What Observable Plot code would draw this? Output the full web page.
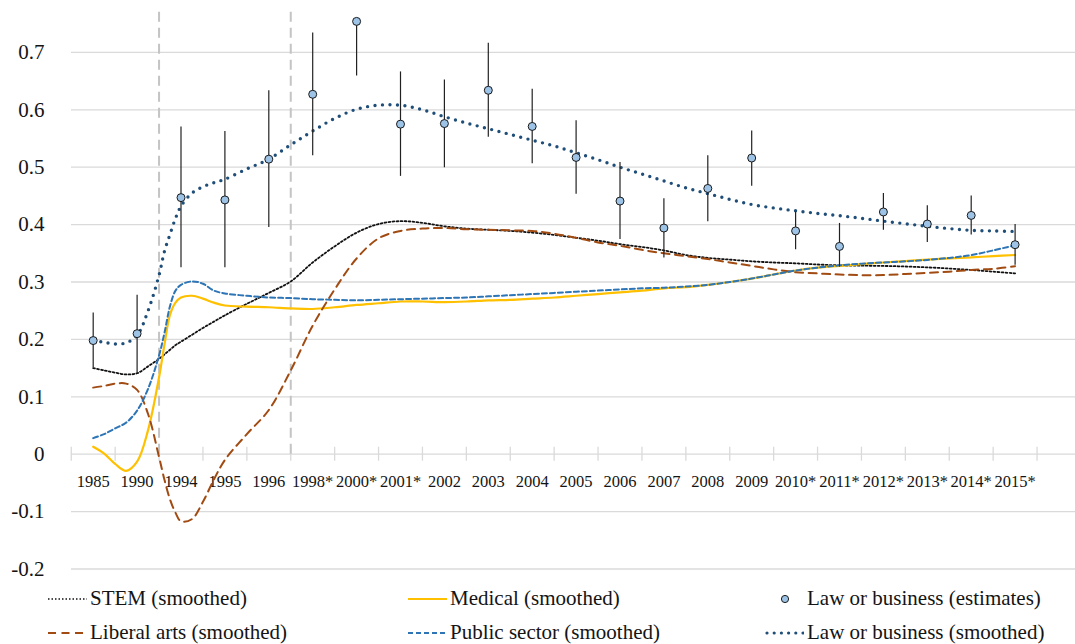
<!DOCTYPE html>
<html>
<head>
<meta charset="utf-8">
<script src="https://cdn.jsdelivr.net/npm/d3@7"></script>
<script src="https://cdn.jsdelivr.net/npm/@observablehq/plot@0.6"></script>
<style>
  html, body { margin: 0; padding: 0; background: #fff; }
  #wrap { position: relative; width: 1075px; height: 644px; font-family: "Liberation Serif", serif; color: #141414; }
  #legend { position: absolute; left: 0; top: 580px; width: 1075px; height: 64px; }
  .item { position: absolute; display: flex; align-items: center; font-size: 21px; line-height: 21px; white-space: nowrap; }
  .item svg { display: block; margin-right: 3px; }
</style>
</head>
<body>
<div id="wrap"><div id="chart"></div><div id="legend"></div></div>
<script>
// Survey years on the horizontal axis (* = alternative survey wave)
const categories = ["1985", "1990", "1994", "1995", "1996", "1998*", "2000*", "2001*", "2002", "2003", "2004",
  "2005", "2006", "2007", "2008", "2009", "2010*", "2011*", "2012*", "2013*", "2014*", "2015*"];

// Law or business: point estimates and confidence bounds
const lawEstimate = [0.198, 0.210, 0.447, 0.443, 0.514, 0.627, 0.754, 0.575, 0.576, 0.634, 0.571,
  0.517, 0.441, 0.394, 0.463, 0.516, 0.389, 0.362, 0.422, 0.401, 0.416, 0.365];
const lawLow = [0.150, 0.141, 0.325, 0.325, 0.395, 0.520, 0.659, 0.484, 0.499, 0.552, 0.506,
  0.453, 0.374, 0.342, 0.405, 0.467, 0.356, 0.326, 0.390, 0.369, 0.382, 0.329];
const lawHigh = [0.246, 0.277, 0.570, 0.562, 0.633, 0.734, null, 0.666, 0.652, 0.716, 0.636,
  0.581, 0.508, 0.445, 0.520, 0.563, 0.422, 0.402, 0.454, 0.433, 0.450, 0.400];

// Positions (in category steps) at which the smoothed series are sampled
const smoothPos = [0, 0.25, 0.5, 0.75, 1, 1.25, 1.5, 1.625, 1.75, 1.875, 2, 2.25, 2.5, 2.75, 3,
  3.5, 4, 4.5, 5, 5.5, 6, 6.5, 7, 7.5, 8,
  8.5, 9, 9.5, 10, 10.5, 11, 11.5, 12, 12.5, 13,
  13.5, 14, 14.5, 15, 15.5, 16, 16.5, 17, 17.5, 18,
  18.5, 19, 19.5, 20, 20.5, 21];

const lawSmoothed = [0.198, 0.195, 0.192, 0.194, 0.207, 0.250, 0.312, 0.354, 0.383, 0.411, 0.432, 0.455, 0.466, 0.473, 0.479,
  0.497, 0.514, 0.539, 0.563, 0.585, 0.601, 0.608, 0.608, 0.600, 0.588,
  0.577, 0.567, 0.557, 0.547, 0.537, 0.525, 0.513, 0.500, 0.488, 0.476,
  0.464, 0.454, 0.444, 0.435, 0.429, 0.424, 0.4195, 0.4155, 0.411, 0.406,
  0.4015, 0.397, 0.393, 0.390, 0.389, 0.388];

const stemSmoothed = [0.150, 0.146, 0.142, 0.139, 0.141, 0.153, 0.166, 0.174, 0.182, 0.190, 0.196, 0.208, 0.220, 0.231, 0.242,
  0.262, 0.281, 0.301, 0.334, 0.362, 0.386, 0.401, 0.406, 0.403, 0.397,
  0.393, 0.391, 0.389, 0.386, 0.382, 0.377, 0.372, 0.366, 0.361, 0.355,
  0.347, 0.342, 0.339, 0.336, 0.334, 0.3325, 0.3305, 0.329, 0.3285, 0.328,
  0.327, 0.3255, 0.3235, 0.321, 0.318, 0.315];

const medicalSmoothed = [0.013, 0.001, -0.017, -0.029, -0.013, 0.042, 0.134, 0.192, 0.243, 0.264, 0.273, 0.276, 0.271, 0.264, 0.259,
  0.257, 0.256, 0.254, 0.253, 0.256, 0.260, 0.263, 0.266, 0.266, 0.265,
  0.266, 0.268, 0.269, 0.271, 0.273, 0.276, 0.279, 0.282, 0.285, 0.289,
  0.291, 0.295, 0.300, 0.306, 0.313, 0.320, 0.325, 0.328, 0.331, 0.334,
  0.3365, 0.339, 0.341, 0.343, 0.345, 0.347];

const publicSmoothed = [0.028, 0.035, 0.045, 0.055, 0.076, 0.114, 0.172, 0.212, 0.258, 0.285, 0.295, 0.301, 0.297, 0.285, 0.280,
  0.276, 0.273, 0.272, 0.270, 0.269, 0.268, 0.269, 0.270, 0.271, 0.272,
  0.273, 0.275, 0.277, 0.279, 0.281, 0.283, 0.285, 0.287, 0.289, 0.290,
  0.292, 0.295, 0.300, 0.306, 0.313, 0.320, 0.325, 0.329, 0.332, 0.334,
  0.336, 0.3385, 0.342, 0.347, 0.355, 0.364];

const liberalSmoothed = [0.116, 0.119, 0.123, 0.123, 0.112, 0.070, -0.005, -0.045, -0.079, -0.102, -0.117, -0.113, -0.083, -0.044, -0.010,
  0.035, 0.077, 0.146, 0.224, 0.287, 0.341, 0.376, 0.389, 0.393, 0.394,
  0.392, 0.391, 0.390, 0.389, 0.384, 0.377, 0.369, 0.363, 0.356, 0.350,
  0.345, 0.340, 0.334, 0.328, 0.322, 0.317, 0.315, 0.313, 0.312, 0.312,
  0.314, 0.316, 0.318, 0.321, 0.323, 0.3275];

const yTicks = [-0.2, -0.1, 0, 0.1, 0.2, 0.3, 0.4, 0.5, 0.6, 0.7];
// Survey-design breaks: drawn after these years
const periodBreaks = ["1990", "1996"];

// Styles
const SERIF = '"Liberation Serif", serif';
const C = {
  stem: "#111111", medical: "#ffc000", liberal: "#a14b12", pub: "#2e75b6",
  law: "#1f4e79", dotFill: "#9dc3e6", grid: "#dadada", text: "#141414"
};

// Tables built from the arrays above
const idx = categories.map((_, i) => i);
const estimates = idx.map(i => ({pos: i, est: lawEstimate[i], lo: lawLow[i], hi: lawHigh[i] ?? lawEstimate[i]}));
const curve = vals => smoothPos.map((p, i) => ({pos: p, v: vals[i]}));
const boundaries = [...idx.map(i => i - 0.5), categories.length - 0.5];
const breaks = periodBreaks.map(y => categories.indexOf(y) + 0.5);

const chart = Plot.plot({
  width: 1075,
  height: 580,
  marginLeft: 71,
  marginRight: 0,
  marginTop: 0,
  marginBottom: 0,
  style: {fontFamily: SERIF, background: "white", overflow: "visible", color: C.text},
  x: {type: "linear", domain: [-0.5, categories.length - 0.5], range: [70.75, 1036.55], axis: null},
  y: {domain: [-0.2, 0.7], range: [568.5, 51.9], axis: null},
  marks: [
    Plot.ruleY(yTicks, {stroke: C.grid, strokeWidth: 1.3}),
    Plot.ruleX(boundaries, {x: d => d, y1: 0, y2: 0, insetTop: -7, insetBottom: -7, stroke: C.grid, strokeWidth: 1.3}),
    Plot.ruleX(breaks, {x: d => d, y1: 0, y2: 0.775, stroke: "#c4c4c4", strokeWidth: 2, strokeDasharray: "10,6"}),
    Plot.axisY(yTicks, {tickSize: 0, tickPadding: 27, tickFormat: d => String(d), fontSize: 21, fill: C.text, fontFamily: SERIF}),
    Plot.text(categories, {x: (d, i) => i, y: 0, dy: 28, text: d => d, fontSize: 16.5, fill: C.text, fontFamily: SERIF}),
    Plot.line(curve(stemSmoothed), {x: "pos", y: "v", curve: "catmull-rom", stroke: C.stem, strokeWidth: 1.8, strokeDasharray: "1.8,2.2"}),
    Plot.line(curve(medicalSmoothed), {x: "pos", y: "v", curve: "catmull-rom", stroke: C.medical, strokeWidth: 2.2}),
    Plot.line(curve(liberalSmoothed), {x: "pos", y: "v", curve: "catmull-rom", stroke: C.liberal, strokeWidth: 2, strokeDasharray: "8,5.5"}),
    Plot.line(curve(publicSmoothed), {x: "pos", y: "v", curve: "catmull-rom", stroke: C.pub, strokeWidth: 2, strokeDasharray: "5,3"}),
    Plot.line(curve(lawSmoothed), {x: "pos", y: "v", curve: "catmull-rom", stroke: C.law, strokeWidth: 3.4, strokeDasharray: "0,7.5", strokeLinecap: "round"}),
    Plot.ruleX(estimates, {x: "pos", y1: "lo", y2: "hi", stroke: "#222", strokeWidth: 1.2}),
    Plot.dot(estimates, {x: "pos", y: "est", r: 4, fill: C.dotFill, stroke: "#1a1a1a", strokeWidth: 1})
  ]
});
document.getElementById("chart").appendChild(chart);

// Legend below the plot
const legendItems = [
  {label: "STEM (smoothed)", left: 48, row: 0, sample: `<line x1="0" y1="6" x2="39" y2="6" stroke="${C.stem}" stroke-width="1.6" stroke-dasharray="1.5,2"/>`},
  {label: "Medical (smoothed)", left: 408, row: 0, sample: `<line x1="0" y1="6" x2="39" y2="6" stroke="${C.medical}" stroke-width="2.2"/>`},
  {label: "Law or business (estimates)", left: 765, row: 0, sample: `<circle cx="20" cy="6" r="3.6" fill="${C.dotFill}" stroke="#1a1a1a" stroke-width="1"/>`},
  {label: "Liberal arts (smoothed)", left: 48, row: 1, sample: `<line x1="0" y1="6" x2="39" y2="6" stroke="${C.liberal}" stroke-width="2" stroke-dasharray="8,5.5"/>`},
  {label: "Public sector (smoothed)", left: 408, row: 1, sample: `<line x1="0" y1="6" x2="39" y2="6" stroke="${C.pub}" stroke-width="2" stroke-dasharray="5,3"/>`},
  {label: "Law or business (smoothed)", left: 765, row: 1, sample: `<line x1="2" y1="6" x2="38" y2="6" stroke="${C.law}" stroke-width="3.2" stroke-dasharray="0,7.2" stroke-linecap="round"/>`}
];
const legend = document.getElementById("legend");
for (const it of legendItems) {
  const div = document.createElement("div");
  div.className = "item";
  div.style.left = it.left + "px";
  div.style.top = (it.row === 0 ? 8 : 42) + "px";
  div.innerHTML = `<svg width="39" height="12">${it.sample}</svg><span>${it.label}</span>`;
  legend.appendChild(div);
}
</script>
</body>
</html>
